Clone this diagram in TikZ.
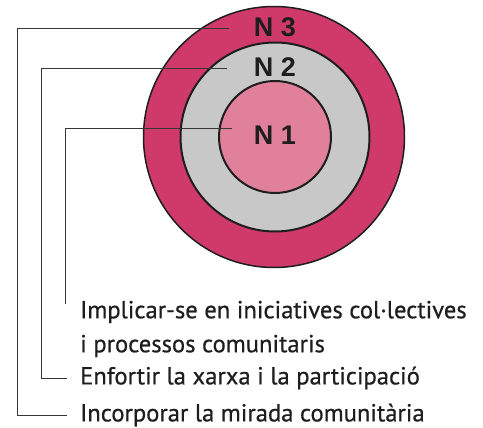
\documentclass[tikz,border=0pt]{standalone}
\usepackage{fontspec}
\setmainfont{PT Sans}[FakeBold=0.6]
\newfontfamily\levelfont{Liberation Sans}

\definecolor{ringthree}{RGB}{207,58,107}
\definecolor{ringtwo}{RGB}{200,200,200}
\definecolor{ringone}{RGB}{224,128,154}
\definecolor{ink}{RGB}{30,30,30}

\begin{document}
\begin{tikzpicture}[x=1pt, y=-1pt,
  ring/.style={circle, draw=ink, line width=2pt, inner sep=0pt},
  leader/.style={draw=ink!90, line width=1pt},
  level/.style={font=\levelfont\bfseries\fontsize{27}{27}\selectfont, text=ink},
  item/.style={anchor=west, inner sep=0pt, text=ink, font=\fontsize{24.6}{24.6}\selectfont}]
  \useasboundingbox (0,0) rectangle (483,428);
  % concentric levels
  \node[ring, fill=ringthree, minimum size=261pt, line width=1.5pt] (c3) at (274,137) {};
  \node[ring, fill=ringtwo, minimum size=189pt] (c2) at (275,137) {};
  \node[ring, fill=ringone, minimum size=112pt] (c1) at (275,137) {};
  \node[level] (n3) at (275,27) {N 3};
  \node[level] (n2) at (275,67) {N 2};
  \node[level] (n1) at (275,135) {N 1};
  % texts
  \node[item] (t1) at (80,312) {Implicar-se en iniciatives col·lectives};
  \node[item] (t2) at (80,346) {i processos comunitaris};
  \node[item] (t3) at (80,378) {Enfortir la xarxa i la participació};
  \node[item] (t4) at (80,415) {Incorporar la mirada comunitària};
  % leaders
  \coordinate (e3) at (229,29);
  \coordinate (e2) at (227,69);
  \coordinate (e1) at (232,129);
  \draw[leader] (e3) -- (e3 -| 17,0) |- ([xshift=-13pt]t4.west);
  \draw[leader] (e2) -- (e2 -| 41,0) |- ([xshift=-13pt]t3.west);
  \draw[leader] (e1) -| ([xshift=-15pt, yshift=-3pt]t1.north west);
\end{tikzpicture}
\end{document}
